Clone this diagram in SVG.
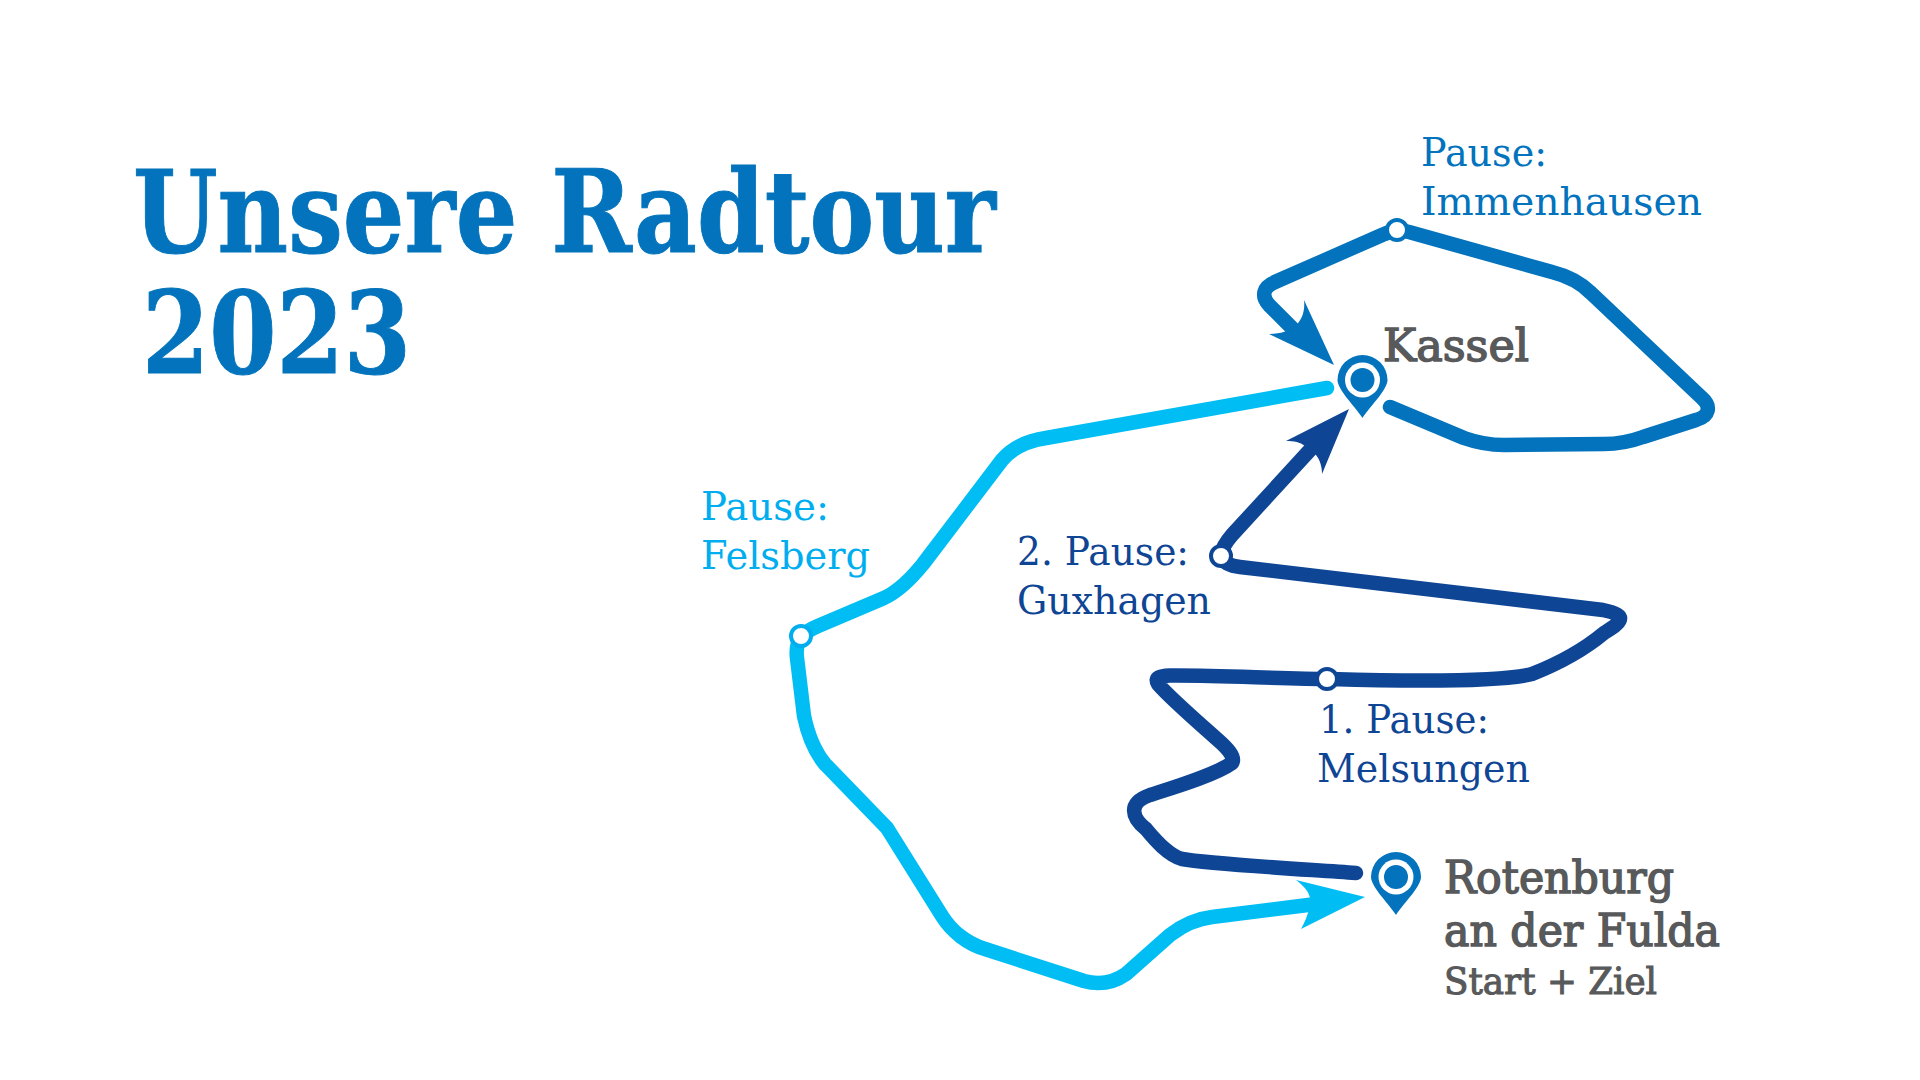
<svg xmlns="http://www.w3.org/2000/svg" width="1920" height="1080" viewBox="0 0 1920 1080">
<defs>
<style>
text{font-family:"DejaVu Serif","Liberation Serif",serif}
.route{fill:none;stroke-width:14.500;stroke-linecap:round;stroke-linejoin:round}
.title{font-size:115px;font-weight:700;fill:#0273BC;stroke:#0273BC;stroke-width:1}
.lab{font-size:40px}
.city{font-size:44px;fill:#58595B;stroke:#58595B;stroke-width:1.500}
.sub{font-size:37px;fill:#58595B;stroke:#58595B;stroke-width:1.100}
.stop{fill:#fff;stroke-width:4}
.b{stroke:#0273BC}
.d{stroke:#0F4595}
.l{stroke:#00AEEF}
</style>
<g id="pin">
<path d="M0 38C-6 28-25 10-25 0A25 25 0 0 1 25 0C25 10 6 28 0 38Z" fill="#0273BC"/>
<circle r="17.5" fill="#fff"/>
<circle r="12" fill="#0273BC"/>
</g>
</defs>
<rect width="1920" height="1080" fill="#fff"/>
<g id="connectors">
<path class="route" stroke="#0273BC" d="M1390 407L1464 438C1478 443 1490 445 1504 445L1604 444C1620 444 1632 441 1643 437L1696 420C1710 416 1711 406 1702 398L1591 293C1580 282 1568 276 1552 272L1409 232C1402 230 1392 230 1382 235L1275 282C1263 287 1261 296 1269 305L1298 334"/>
<path d="M1334 365L1304 300C1305 310 1303 318 1296 326C1289 331 1280 334 1269 334Z" fill="#0273BC"/>
<path class="route" stroke="#00BEF4" d="M1327 388L1046 438C1026 441 1012 448 1002 460L923 564C910 580 897 592 884 598L818 626C808 630 804 634 801 637C797 643 796 650 797 658L804 716C808 735 815 752 825 764L887 828L942 916C952 932 968 944 985 949L1084 981C1098 985 1113 983 1126 974L1170 935C1183 925 1195 919 1212 917L1316 904"/>
<path d="M1365 897L1296 880C1304 886 1309 892 1310 898C1311 905 1308 916 1301 929Z" fill="#00BEF4"/>
<path class="route" stroke="#0F4595" d="M1356 873C1300 869 1210 864 1182 859C1168 855 1155 840 1146 829C1132 818 1127 803 1150 795C1175 787 1215 775 1232 763C1236 757 1226 747 1218 740C1200 724 1170 698 1158 684C1154 677 1160 676 1170 675.500C1220 675 1280 679 1330 679C1400 681 1500 682 1532 674C1560 663 1586 648 1604 633C1618 624 1632 616 1603 610L1240 567C1230 566 1222 562 1220 556C1222 548 1226 542 1232 535L1310 450"/>
<path d="M1349 409L1286 441C1294 441 1300 442 1305 446L1316 455C1320 460 1322 467 1322 474Z" fill="#0F4595"/>
</g>
<g id="title"><text class="title" x="133" y="252" textLength="863" lengthAdjust="spacingAndGlyphs">Unsere Radtour</text><text class="title" x="142" y="373" textLength="269" lengthAdjust="spacingAndGlyphs">2023</text></g>
<g id="immenhausen"><circle class="stop b" cx="1397" cy="230" r="10"/><text class="lab" fill="#0273BC" x="1421" y="166" textLength="126" lengthAdjust="spacingAndGlyphs">Pause:</text><text class="lab" fill="#0273BC" x="1421" y="215" textLength="281" lengthAdjust="spacingAndGlyphs">Immenhausen</text></g>
<g id="felsberg"><circle class="stop l" cx="801" cy="636" r="10"/><text class="lab" fill="#00AEEF" x="701" y="520" textLength="128" lengthAdjust="spacingAndGlyphs">Pause:</text><text class="lab" fill="#00AEEF" x="701" y="569" textLength="169" lengthAdjust="spacingAndGlyphs">Felsberg</text></g>
<g id="guxhagen"><circle class="stop d" cx="1221" cy="556" r="10"/><text class="lab" fill="#0F4595" x="1017" y="565" textLength="172" lengthAdjust="spacingAndGlyphs">2. Pause:</text><text class="lab" fill="#0F4595" x="1017" y="614" textLength="194" lengthAdjust="spacingAndGlyphs">Guxhagen</text></g>
<g id="melsungen"><circle class="stop d" cx="1327" cy="679" r="10"/><text class="lab" fill="#0F4595" x="1319" y="733" textLength="170" lengthAdjust="spacingAndGlyphs">1. Pause:</text><text class="lab" fill="#0F4595" x="1317" y="782" textLength="213" lengthAdjust="spacingAndGlyphs">Melsungen</text></g>
<g id="kassel"><use href="#pin" x="1362.500" y="380"/><text class="city" x="1383" y="361" textLength="146" lengthAdjust="spacingAndGlyphs">Kassel</text></g>
<g id="rotenburg"><use href="#pin" x="1396" y="877"/><text class="city" x="1444" y="893" textLength="230" lengthAdjust="spacingAndGlyphs">Rotenburg</text><text class="city" x="1444" y="946" textLength="276" lengthAdjust="spacingAndGlyphs">an der Fulda</text><text class="sub" x="1444" y="994" textLength="213" lengthAdjust="spacingAndGlyphs">Start + Ziel</text></g>
</svg>
